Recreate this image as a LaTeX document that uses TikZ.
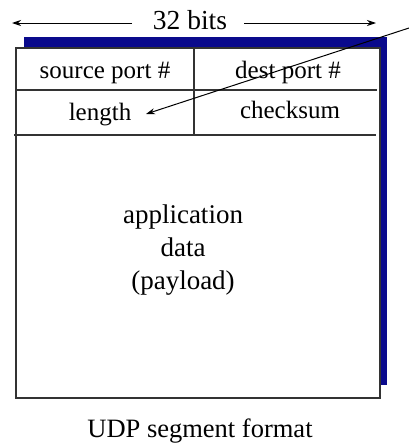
\documentclass[tikz,border=0pt]{standalone}
\usepackage{fontspec}
\setmainfont{Liberation Serif}
\usetikzlibrary{arrows.meta}
\definecolor{shadowblue}{RGB}{10,10,140}
\tikzset{
  cell/.style={font=\fontsize{25}{28}\selectfont, inner sep=0pt, anchor=base},
  rule/.style={line width=1.3pt, draw=black!80},
  dimarrow/.style={line width=1pt, -{Stealth[length=9pt,width=6pt]}},
}
\begin{document}
\begin{tikzpicture}[x=1pt,y=-1pt]
\useasboundingbox (0,0) rectangle (408,447);
% shadow
\fill[shadowblue] (24,37) rectangle (387,385);
% main box
\filldraw[fill=white, draw=black!80, line width=1.3pt] (16,48) rectangle (380,398);
\draw[rule] (16,90) -- (377,90);
\draw[rule] (14,135) -- (376,135);
\draw[rule] (194,48) -- (194,135);
% cell texts
\node[cell] (src) at (105,78) {source port \#};
\node[cell] (dst) at (288,78) {dest port \#};
\node[cell] (len) at (100,120) {length};
\node[cell] (chk) at (290,118) {checksum};
% payload
\node[align=center, font=\fontsize{27}{33}\selectfont, inner sep=0pt] (payload) at (183,250) {application\\data\\(payload)};
% caption
\node[font=\fontsize{26.5}{30}\selectfont, inner sep=0pt, anchor=base] (cap) at (200,437) {UDP segment format};
% 32 bits
\node[font=\fontsize{27.5}{30}\selectfont, inner sep=0pt] (bits) at (190,20) {32 bits};
\coordinate (la) at (12,23);
\coordinate (ra) at (376,23);
\draw[dimarrow] (132,23) -- (la);
\draw[dimarrow] (244,23) -- (ra);
% pointer
\coordinate (pstart) at (409,28);
\coordinate (pend) at (146,114);
\draw[dimarrow] (pstart) -- (pend);
\end{tikzpicture}
\end{document}
